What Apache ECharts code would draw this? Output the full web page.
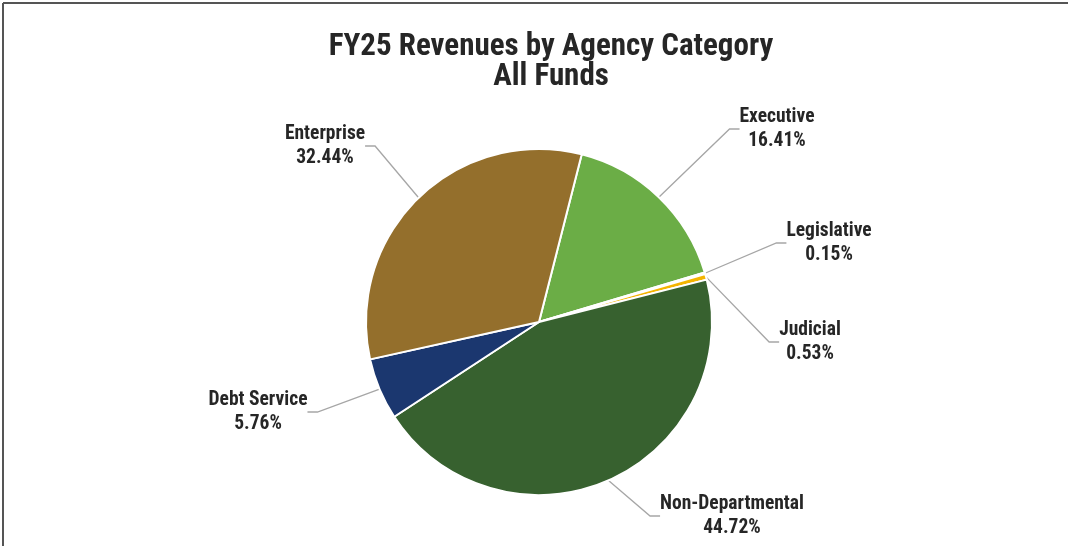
<!DOCTYPE html>
<html>
<head>
<meta charset="utf-8">
<script src="https://cdn.jsdelivr.net/npm/echarts@6/dist/echarts.min.js"></script>
<style>
  html, body { margin: 0; padding: 0; background: #fff; }
  #chart { width: 1068px; height: 546px; }
</style>
</head>
<body>
<div id="chart"></div>
<script>
const categories = ['Executive', 'Legislative', 'Judicial', 'Non-Departmental', 'Debt Service', 'Enterprise'];
const shares = [16.41, 0.15, 0.53, 44.72, 5.76, 32.44];
const sliceColors = ['#6bad46', '#f2f2f2', '#f4b400', '#37612f', '#1b376f', '#946f2c'];

// where each label sits (centre of the two-line text)
const labelSpots = [
  [777, 129],
  [829, 243],
  [810, 342],
  [732, 516],
  [258, 412],
  [325, 146],
];

const font = "'Roboto Condensed', 'Liberation Sans Narrow', 'DejaVu Sans Condensed', Roboto, sans-serif";

const chart = echarts.init(document.getElementById('chart'), null, { renderer: 'canvas' });

const option = {
  backgroundColor: '#fff',
  animation: false,
  title: {
    text: 'FY25 Revenues by Agency Category\nAll Funds',
    left: 546,
    top: 27,
    textAlign: 'center',
    textStyle: {
      fontFamily: font,
      fontSize: 31,
      fontWeight: 'bold',
      lineHeight: 30,
      color: '#262626',
    },
  },
  graphic: [
    { type: 'line', shape: { x1: 3, y1: 3, x2: 1068, y2: 3 }, style: { stroke: '#555', lineWidth: 2 } },
    { type: 'line', shape: { x1: 3, y1: 3, x2: 3, y2: 546 }, style: { stroke: '#555', lineWidth: 2 } },
  ],
  series: [
    {
      type: 'pie',
      center: [539, 322],
      radius: [0, 173],
      startAngle: 75.7,
      clockwise: true,
      avoidLabelOverlap: false,
      itemStyle: { borderColor: '#fff', borderWidth: 2 },
      label: {
        show: true,
        position: 'outside',
        formatter: (p) => p.name + '\n' + p.value.toFixed(2) + '%',
        fontFamily: font,
        fontSize: 19.5,
        fontWeight: 'bold',
        lineHeight: 23.5,
        color: '#262626',
        align: 'center',
      },
      labelLine: {
        show: true,
        length: 40,
        length2: 10,
        lineStyle: { color: '#a6a6a6', width: 1.3 },
      },
      labelLayout: (params) => {
        const spot = labelSpots[params.dataIndex];
        return { x: spot[0], y: spot[1], align: 'center', verticalAlign: 'middle' };
      },
      data: categories.map((name, i) => ({
        name: name,
        value: shares[i],
        itemStyle: { color: sliceColors[i] },
      })),
    },
  ],
};

chart.setOption(option);
</script>
</body>
</html>
